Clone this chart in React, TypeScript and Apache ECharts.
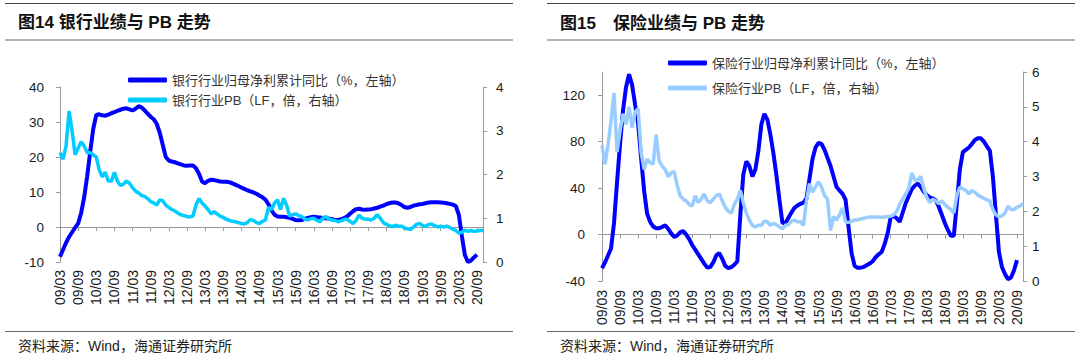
import React, { useEffect, useRef } from "react";
import * as echarts from "echarts";

// Monthly categories 09/03 ... 20/11
const months: string[] = [];
for (let y = 2009; y <= 2020; y++) {
  for (let m = 1; m <= 12; m++) {
    if ((y === 2009 && m < 3) || (y === 2020 && m > 11)) continue;
    months.push(`${String(y % 100).padStart(2, "0")}/${String(m).padStart(2, "0")}`);
  }
}

const BANK_PROFIT_NAME = "银行行业归母净利累计同比（%，左轴）";
const BANK_PB_NAME = "银行行业PB（LF，倍，右轴）";
const INS_PROFIT_NAME = "保险行业归母净利累计同比（%，左轴）";
const INS_PB_NAME = "保险行业PB（LF，倍，右轴）";

const bankProfit = [
  -8.5, -6.5, -4.5, -2.8, -1.5, -0.2, 1, 4, 8.5, 14.5, 21.5, 28,
  32, 32.2, 31.9, 31.8, 32.1, 32.5, 32.8, 33.2, 33.5, 33.8, 33.9, 33.6,
  33.3, 33.8, 34.5, 34.2, 33.3, 32.4, 31.5, 30.8, 29.5, 27, 23.5, 20,
  19, 18.7, 18.5, 18.2, 17.9, 17.6, 17.5, 17.6, 17.6, 16.8, 15.2, 13,
  12.5, 13.2, 13.5, 13.4, 13.2, 13.0, 12.9, 12.9, 12.8, 12.5, 12.1, 11.7,
  11.3, 10.9, 10.5, 10.2, 9.9, 9.5, 9.0, 8.5, 7.8, 6.5, 4.8, 3.5,
  3.0, 2.9, 2.9, 2.8, 2.6, 2.3, 2.0, 1.9, 2.0, 2.3, 2.6, 2.8,
  2.9, 2.8, 2.7, 2.6, 2.5, 2.4, 2.2, 2.0, 2.0, 2.2, 2.5, 3.0,
  3.8, 4.5, 5.1, 5.2, 5.0, 4.9, 5.0, 5.1, 5.3, 5.5, 5.8, 6.1,
  6.5, 6.8, 7.0, 7.0, 6.8, 6.3, 5.7, 5.5, 5.7, 6.1, 6.3, 6.5,
  6.6, 6.8, 7.0, 7.1, 7.1, 7.1, 7.0, 6.9, 6.8, 6.6, 6.4, 6.0,
  3.5, -2.5, -8, -10, -9.6, -8.7, -7.9,
];

const bankPB = [
  2.5, 2.35, 2.65, 3.45, 3.0, 2.45, 2.6, 2.75, 2.65, 2.5, 2.5, 2.45,
  2.4, 2.1, 1.95, 2.05, 1.85, 1.85, 2.05, 1.85, 1.75, 1.78, 1.85, 1.8,
  1.7, 1.62, 1.58, 1.52, 1.5, 1.45, 1.38, 1.35, 1.3, 1.42, 1.4, 1.3,
  1.25, 1.2, 1.17, 1.12, 1.08, 1.06, 1.04, 1.03, 1.05, 1.3, 1.45, 1.35,
  1.28, 1.2, 1.1, 1.15, 1.1, 1.05, 1.02, 0.98, 0.95, 0.93, 0.92, 0.9,
  0.88, 0.87, 0.9, 0.97, 0.95, 0.9, 0.88, 0.93, 0.96, 1.25, 1.2, 1.35,
  1.42, 1.2, 1.46, 1.3, 1.05, 1.08, 1.1, 1.06, 1.04, 0.98, 0.96, 0.99,
  1.0, 0.95, 0.92, 1.0, 1.04, 0.98, 0.96, 0.95, 0.92, 0.94, 0.97, 0.98,
  0.93, 0.88, 0.95, 1.07, 1.0, 0.98, 0.98, 0.96, 1.0, 1.08, 1.0, 0.9,
  0.86, 0.83, 0.81, 0.84, 0.82, 0.82, 0.78, 0.76, 0.74, 0.8, 0.86, 0.88,
  0.84, 0.81, 0.86, 0.87, 0.83, 0.8, 0.82, 0.8, 0.82, 0.79, 0.75, 0.72,
  0.66, 0.68, 0.73, 0.7, 0.72, 0.7, 0.71, 0.72, 0.72,
];

const insProfit = [
  -29, -24, -18, -12, 10, 45, 78, 107, 127, 138, 129, 112,
  96, 66, 38, 18, 11, 7, 5.5, 5.5, 6.5, 8, 5, 1,
  -2, -0.8, 2, 3, 0, -4, -9, -13, -17, -21, -25, -28.5,
  -28, -24, -18, -16, -21, -27, -29, -28, -26, -23, 17, 52,
  63, 59, 50, 56, 72, 95, 104, 99, 86, 70, 51, 30,
  10, 10, 14.5, 19, 23, 25, 26.5, 27.5, 31, 48, 65, 75,
  79, 78, 73, 66, 59, 50, 41, 38, 35, 30, 6, -16,
  -27, -28.5, -28.5, -28, -26.5, -25, -23, -19.5, -17, -15, -8, 1,
  15, 16, 14, 11, 19, 27, 33, 39, 42, 44, 41, 37,
  34, 32, 31, 29.5, 24, 17, 10, 4, -1, -1, 27, 56,
  71, 73, 75, 78, 81.5, 83, 83, 80, 76, 72, 49.5, 17,
  -15, -28, -34, -38.5, -37, -31, -22,
];

const insPB = [
  3.9, 3.35, 3.9, 4.6, 5.4, 3.7, 4.3, 4.8, 4.5, 5.0, 4.4, 4.85,
  4.95, 3.7, 3.2, 3.5, 3.4, 3.35, 4.2, 3.45, 3.3, 3.2, 3.0, 3.1,
  3.15, 2.75, 2.45, 2.35, 2.3, 2.2, 2.15, 2.45, 2.25, 2.35, 2.5, 2.3,
  2.25, 2.35, 2.45, 2.5, 2.3, 2.12, 2.0, 1.95, 2.2, 2.35, 2.6, 2.25,
  1.95, 1.75, 1.6, 1.55, 1.6, 1.6, 1.72, 1.7, 1.6, 1.65, 1.62, 1.55,
  1.5, 1.6, 1.62, 1.72, 1.75, 1.7, 1.7, 1.6, 2.3, 2.8, 2.55, 2.7,
  2.85, 2.7, 2.45, 2.35, 1.45, 1.85, 1.75, 1.9, 2.1, 1.7, 1.68, 1.72,
  1.75, 1.76, 1.78, 1.8, 1.82, 1.84, 1.83, 1.84, 1.84, 1.83, 1.84, 1.85,
  1.86, 1.9, 2.0, 2.2, 2.35, 2.5, 2.65, 3.1, 2.9, 2.9, 3.0, 2.65,
  2.4, 2.25, 2.35, 2.3, 2.22, 2.3, 2.2, 2.12, 2.05, 1.95, 2.45, 2.7,
  2.65, 2.6, 2.5, 2.6, 2.55, 2.46, 2.42, 2.37, 2.33, 2.3, 2.05, 1.9,
  1.84, 1.87, 1.95, 2.15, 2.05, 2.05, 2.12, 2.15, 2.22,
];

const leftTicksBank = [-10, 0, 10, 20, 30, 40];
const leftTicksIns = [-40, 0, 40, 80, 120];

const LATIN = '"Liberation Sans", Arial, "Noto Sans CJK SC", sans-serif';
const CJK = '"Liberation Sans", "Noto Sans CJK SC", sans-serif';
const AXIS_GRAY = "#9a9a9a";
const LABEL_COLOR = "#1a1a1a";

// Axis carrying the rotated date labels along the bottom of the plot
function makeLabelX(gridIndex: number, margin: number) {
  return {
    type: "category",
    gridIndex,
    position: "bottom",
    data: months,
    boundaryGap: false,
    axisLine: { show: false, onZero: false },
    axisTick: { show: false },
    axisLabel: {
      interval: 5,
      rotate: 90,
      margin,
      fontSize: 14,
      color: LABEL_COLOR,
      fontFamily: LATIN,
    },
    splitLine: { show: false },
  };
}

// Axis drawing the zero line with downward ticks
function makeZeroX(gridIndex: number, yIndex: number) {
  return {
    type: "category",
    gridIndex,
    position: "top",
    data: months,
    boundaryGap: false,
    axisLine: {
      show: true,
      onZero: true,
      onZeroAxisIndex: yIndex,
      lineStyle: { color: AXIS_GRAY, width: 1 },
    },
    axisTick: { show: true, inside: true, interval: 5, length: 4, lineStyle: { color: AXIS_GRAY } },
    axisLabel: { show: false },
    splitLine: { show: false },
  };
}

function makeY(
  gridIndex: number,
  position: string,
  min: number,
  max: number,
  interval: number,
  margin: number,
  custom?: number[]
) {
  const ax: any = {
    type: "value",
    gridIndex,
    position,
    min,
    max,
    interval,
    axisLine: { show: true, onZero: false, lineStyle: { color: AXIS_GRAY, width: 1 } },
    axisTick: { show: true, length: 4, lineStyle: { color: AXIS_GRAY } },
    axisLabel: {
      margin,
      fontSize: 13.5,
      color: LABEL_COLOR,
      fontFamily: LATIN,
    },
    splitLine: { show: false },
  };
  if (custom) {
    ax.axisTick.customValues = custom;
    ax.axisLabel.customValues = custom;
    ax.axisLabel.formatter = (v: number) => (custom.indexOf(v) >= 0 ? String(v) : "");
  }
  return ax;
}

function hline(x1: number, x2: number, y: number, color: string, w: number) {
  return {
    type: "line",
    shape: { x1, y1: y, x2, y2: y },
    style: { stroke: color, lineWidth: w },
    silent: true,
  };
}

function txt(x: number, y: number, text: string, size: number, bold: boolean, color: string) {
  return {
    type: "text",
    x,
    y,
    silent: true,
    style: {
      text,
      fontSize: size,
      fontWeight: bold ? "bold" : "normal",
      fontFamily: CJK,
      fill: color,
      align: "left",
      verticalAlign: "middle",
    },
  };
}

export default function App() {
  const ref = useRef<HTMLDivElement>(null);

  useEffect(() => {
    if (!ref.current) return;
    const chart = echarts.init(ref.current, undefined, { renderer: "svg" });
    const option: any = {
      animation: false,
      backgroundColor: "#ffffff",
      grid: [
        { left: 60, top: 87, width: 423, height: 175 },
        { left: 602, top: 72, width: 421, height: 209 },
      ],
      xAxis: [makeLabelX(0, 8), makeLabelX(1, 9), makeZeroX(0, 0), makeZeroX(1, 2)],
      yAxis: [
        makeY(0, "left", -10, 40, 10, 16, leftTicksBank),
        makeY(0, "right", 0, 4, 1, 13),
        makeY(1, "left", -40, 140, 40, 17, leftTicksIns),
        makeY(1, "right", 0, 6, 1, 9),
      ],
      legend: [
        {
          orient: "vertical",
          left: 128,
          top: 73.5,
          padding: 0,
          itemWidth: 39,
          itemHeight: 5,
          itemGap: 7,
          icon: "roundRect",
          selectedMode: false,
          data: [BANK_PROFIT_NAME, BANK_PB_NAME],
          textStyle: { fontSize: 13, color: "#333", fontFamily: CJK },
        },
        {
          orient: "vertical",
          left: 668,
          top: 56.5,
          padding: 0,
          itemWidth: 39,
          itemHeight: 5,
          itemGap: 12,
          icon: "roundRect",
          selectedMode: false,
          data: [INS_PROFIT_NAME, INS_PB_NAME],
          textStyle: { fontSize: 13, color: "#333", fontFamily: CJK },
        },
      ],
      series: [
        {
          name: BANK_PROFIT_NAME,
          type: "line",
          xAxisIndex: 0,
          yAxisIndex: 0,
          data: bankProfit,
          symbol: "none",
          lineStyle: { color: "#0000ff", width: 4 },
          itemStyle: { color: "#0000ff" },
          z: 2,
        },
        {
          name: BANK_PB_NAME,
          type: "line",
          xAxisIndex: 0,
          yAxisIndex: 1,
          data: bankPB,
          symbol: "none",
          lineStyle: { color: "#00ccff", width: 3.5 },
          itemStyle: { color: "#00ccff" },
          z: 3,
        },
        {
          name: INS_PROFIT_NAME,
          type: "line",
          xAxisIndex: 1,
          yAxisIndex: 2,
          data: insProfit,
          symbol: "none",
          lineStyle: { color: "#0000ff", width: 4 },
          itemStyle: { color: "#0000ff" },
          z: 2,
        },
        {
          name: INS_PB_NAME,
          type: "line",
          xAxisIndex: 1,
          yAxisIndex: 3,
          data: insPB,
          symbol: "none",
          lineStyle: { color: "#99ccff", width: 3.5 },
          itemStyle: { color: "#99ccff" },
          z: 3,
        },
      ],
      graphic: [
        hline(5, 513, 3.5, "#444", 1),
        hline(5, 513, 40, "#999", 1.5),
        hline(5, 513, 331.5, "#666", 1),
        hline(547, 1075, 3.5, "#444", 1),
        hline(547, 1075, 40, "#999", 1.5),
        hline(547, 1075, 331.5, "#666", 1),
        txt(18, 22, "图14 银行业绩与 PB 走势", 17, true, "#111"),
        txt(560, 23, "图15\u3000保险业绩与 PB 走势", 17, true, "#111"),
        txt(18, 346, "资料来源：Wind，海通证券研究所", 14, false, "#222"),
        txt(560, 346, "资料来源：Wind，海通证券研究所", 14, false, "#222"),
      ],
    };
    chart.setOption(option);
    return () => chart.dispose();
  }, []);

  return (
    <div
      ref={ref}
      style={{ position: "absolute", left: 0, top: 0, width: 1080, height: 361, background: "#fff" }}
    />
  );
}
